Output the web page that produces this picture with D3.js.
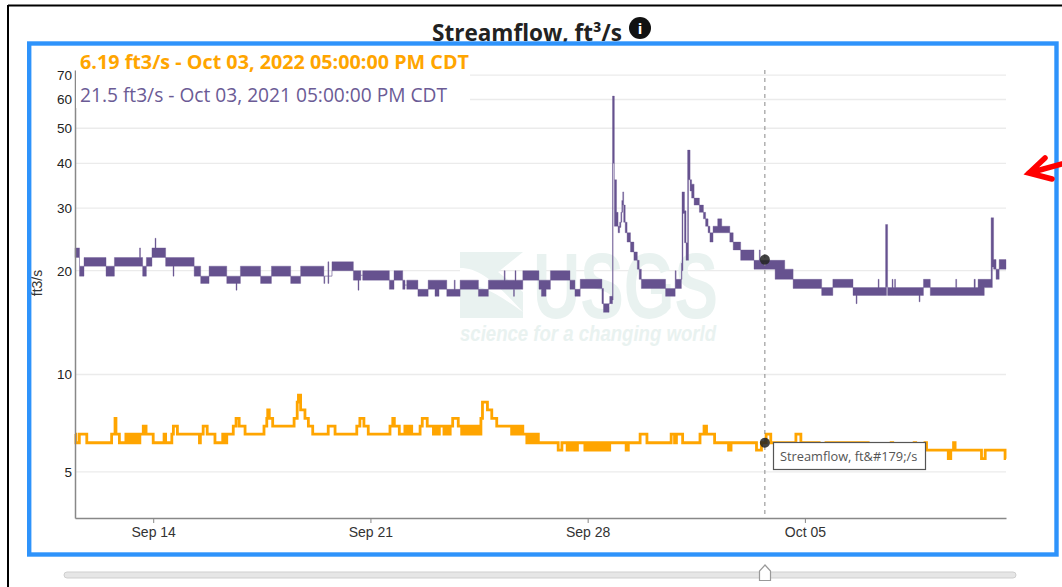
<!DOCTYPE html>
<html>
<head>
<meta charset="utf-8">
<script src="https://cdn.jsdelivr.net/npm/d3@7"></script>
<style>
  body { margin: 0; background: #fff; overflow: hidden; }
  svg { display: block; }
</style>
</head>
<body>
<svg id="chart" width="1062" height="587"></svg>
<script>
// day of the month counted from Sep 1 (Oct 3 = 33), flow top, flow bottom.
// Where the gauge flips fast between two readings top and bottom differ.
const purpleSteps = [
  [11.48,23.2,21.8],[11.625,20.6,19.3],[11.77,21.8,20.6],[12.48,20.6,19.3],[12.75,21.8,20.6],
  [13.56,23.2,20.6],[13.59,21.8,20.6],[13.66,20.6,19.3],[13.78,21.8,20.6],[13.96,23.2,21.8],
  [14.06,24.7,21.8],[14.09,23.2,21.8],[14.40,21.8,20.6],[14.64,21.8,19.3],[14.67,21.8,20.6],
  [15.32,20.6,19.3],[15.53,19.3,18.4],[15.80,20.6,19.3],[16.37,19.3,18.4],[16.67,19.3,17.6],
  [16.70,19.3,18.4],[16.81,20.6,19.3],[17.46,19.3,18.4],[17.81,20.6,19.3],[18.43,19.3,18.4],
  [18.75,20.6,19.3],[19.50,19.3,18.4],[19.53,19.3,19.3],[19.63,21.2,18.4],[19.66,19.3,19.3],
  [19.76,21.2,20.0],[20.45,20.0,18.8],[20.60,20.0,17.6],[20.63,20.0,18.8],[20.69,19.4,19.4],
  [20.75,20.0,18.8],[21.61,18.8,17.7],[21.76,20.0,18.8],[22.04,18.8,17.7],[22.115,18.2,18.2],
  [22.17,18.8,17.7],[22.53,17.7,16.9],[22.86,18.8,17.7],[23.08,18.8,16.9],[23.21,18.8,17.7],
  [23.46,17.7,16.9],[23.70,18.8,16.9],[23.73,17.7,16.9],[23.89,18.8,17.7],[24.48,17.7,16.9],
  [24.80,18.8,17.7],[25.31,20.0,17.7],[25.34,18.8,17.7],[25.61,18.8,16.9],[25.64,18.8,17.7],
  [25.66,20.0,17.7],[25.69,18.8,17.7],[25.91,20.0,18.8],[26.43,18.8,17.7],[26.51,18.8,16.9],
  [26.66,18.8,17.7],[26.80,20.0,18.8],[27.43,18.8,17.7],[27.59,17.7,16.9],[27.76,18.9,17.8],
  [28.46,17.8,16.1],[28.51,16.1,15.2],[28.69,16.1,16.1],[28.71,16.9,16.1],[28.80,61.3,16.5],
  [28.82,61.3,40],[28.86,36,26.7],[28.93,29.2,26.7],[28.98,26.7,25.6],[29.03,27.4,26.5],
  [29.07,29.2,27.4],[29.10,31.5,29.2],[29.13,33.3,30.6],[29.16,30.6,27.4],[29.21,27.4,25.6],
  [29.27,25.6,24.1],[29.38,24.1,22.6],[29.49,22.6,21.4],[29.60,21.4,20.2],[29.66,20.2,18.9],
  [29.73,18.9,17.8],[30.51,17.8,16.9],[30.82,20.0,17.8],[30.85,18.9,17.8],[31.02,21,18.9],
  [31.04,33.3,20],[31.07,33.3,29],[31.12,29.5,24],[31.17,24,21.4],[31.22,43.5,21.4],
  [31.25,43.5,36],[31.30,36,33.5],[31.35,35,32],[31.43,32,30.6],[31.60,30.6,29.2],
  [31.73,29.2,28],[31.80,28,26.7],[31.88,26.7,25.6],[31.94,25.6,24.1],[32.04,26.7,25.6],
  [32.19,28,25.6],[32.32,26.7,25.6],[32.58,25.6,24.1],[32.69,24.1,22.9],[32.93,22.9,21.4],
  [33.36,21.4,20.2],[33.53,22.9,20.2],[33.56,21.4,20.2],[34.04,21.4,18.9],[34.35,20.2,18.9],
  [34.62,18.9,17.8],[35.54,17.9,17.0],[35.90,18.9,17.9],[36.55,17.9,17.0],[36.65,17.9,16.1],
  [36.68,17.9,17.0],[37.36,18.9,17.0],[37.39,17.9,17.0],[37.60,27,17.0],[37.63,27,18],
  [37.665,17.9,17.0],[37.81,18.9,17.0],[37.84,17.9,17.0],[37.89,18.9,17.0],[37.92,17.9,17.0],
  [38.68,17.9,16.3],[38.71,17.9,17.0],[38.82,18.9,17.9],[39.04,17.9,17.0],[39.86,18.9,17.0],
  [39.89,17.9,17.0],[40.45,18.9,17.0],[40.49,17.9,17.0],[40.58,18.9,17.0],[40.78,18.9,17.9],
  [41.0,28.2,17.9],[41.04,28.2,20.5],[41.08,21.5,20.2],[41.16,20.2,18.9],[41.26,21.5,20.2],
  [41.48,21.5,20.2]
];

const orangeSteps = [
  [11.48,6.59,6.59],[11.51,6.19,6.19],[11.62,6.59,6.59],[11.86,6.19,6.19],[12.66,6.59,6.59],
  [12.77,7.37,7.37],[12.80,6.59,6.59],[12.91,6.19,6.19],[13.12,6.59,6.19],[13.57,6.59,6.59],
  [13.68,6.98,6.98],[13.77,6.59,6.59],[14.00,6.19,6.19],[14.35,6.59,6.59],[14.40,6.19,6.19],
  [14.60,6.59,6.59],[14.65,6.98,6.98],[14.78,6.59,6.59],[15.49,6.19,6.19],[15.52,6.59,6.59],
  [15.61,6.98,6.98],[15.74,6.59,6.59],[15.99,6.19,6.19],[16.24,6.59,6.19],[16.37,6.59,6.59],
  [16.58,6.98,6.98],[16.67,7.37,7.37],[16.77,6.98,6.98],[16.96,6.59,6.59],[17.57,6.98,6.98],
  [17.66,7.37,7.37],[17.69,7.82,7.82],[17.74,7.37,7.37],[17.85,6.98,6.98],[18.54,7.37,7.37],
  [18.64,8.26,8.26],[18.68,8.68,8.68],[18.75,7.82,7.82],[18.89,7.37,7.37],[19.0,6.98,6.98],
  [19.14,6.59,6.59],[19.64,6.98,6.98],[19.86,6.59,6.59],[20.56,6.98,6.98],[20.66,7.37,7.37],
  [20.79,6.98,6.98],[20.93,6.59,6.59],[21.63,6.98,6.98],[21.72,7.37,7.37],[21.77,6.98,6.98],
  [21.93,6.59,6.59],[22.11,6.98,6.59],[22.33,6.59,6.59],[22.60,6.98,6.98],[22.67,7.37,7.37],
  [22.83,6.98,6.98],[23.03,6.98,6.59],[23.22,6.98,6.98],[23.37,6.98,6.59],[23.57,6.98,6.98],
  [23.65,7.37,7.37],[23.83,6.98,6.98],[23.94,6.98,6.59],[24.15,6.59,6.59],[24.21,6.98,6.59],
  [24.48,6.59,6.59],[24.56,7.37,7.37],[24.61,8.26,8.26],[24.77,7.82,7.82],[24.91,7.37,7.37],
  [25.07,6.98,6.98],[25.55,6.98,6.59],[25.91,6.59,6.59],[26.04,6.59,6.19],[26.41,6.19,6.19],
  [27.05,5.87,5.87],[27.17,6.19,6.19],[27.34,6.19,5.87],[27.67,6.19,6.19],[27.91,6.19,5.87],
  [28.17,6.19,6.19],[28.23,6.19,5.87],[28.71,6.19,6.19],[29.24,5.87,5.87],[29.31,6.19,6.19],
  [29.69,6.59,6.59],[29.91,6.19,6.19],[30.69,6.59,6.59],[30.80,6.19,6.19],[30.86,6.59,6.59],
  [31.06,6.19,6.19],[31.62,6.59,6.59],[31.75,6.98,6.98],[31.83,6.59,6.59],[32.09,6.19,6.19],
  [32.54,5.87,5.87],[32.62,6.19,6.19],[33.44,5.87,5.87],[33.60,6.19,6.19],[33.75,6.59,6.59],
  [33.90,6.19,6.19],[34.71,6.59,6.59],[34.87,6.19,6.19],[35.46,5.87,5.87],[35.68,6.19,6.19],
  [36.55,5.87,5.87],[36.62,6.19,6.19],[37.04,5.87,5.87],[37.78,6.19,6.19],[37.83,5.87,5.87],
  [38.52,6.19,6.19],[38.57,5.87,5.87],[38.87,6.19,6.19],[38.92,5.87,5.87],[39.62,5.51,5.51],
  [39.70,5.87,5.87],[39.79,6.19,6.19],[39.84,5.87,5.87],[40.69,5.51,5.51],[40.81,5.87,5.87],
  [41.45,5.51,5.51],[41.48,5.51,5.51]
];

const yTicks = [5, 10, 20, 30, 40, 50, 60, 70];
const xTickDays = [14, 21, 28, 35];
const xTickLabels = ["Sep 14", "Sep 21", "Sep 28", "Oct 05"];
const hoverDay = 33.71;
const hoverPurple = 21.5;
const hoverOrange = 6.19;

const titleText = "Streamflow, ft³/s";
const orangeLabel = "6.19 ft3/s - Oct 03, 2022 05:00:00 PM CDT";
const purpleLabel = "21.5 ft3/s - Oct 03, 2021 05:00:00 PM CDT";
const tooltipText = "Streamflow, ft&#179;/s";

const purple = "#66528f";
const orange = "#ffa500";
const toDate = d => new Date(Date.UTC(2021, 8, 0) + d * 864e5);

const svg = d3.select("#chart");

// outer page lines
svg.append("line").attr("x1", 8).attr("x2", 1062).attr("y1", 5.5).attr("y2", 5.5)
  .attr("stroke", "#000").attr("stroke-width", 2);
svg.append("line").attr("x1", 8).attr("x2", 8).attr("y1", 5).attr("y2", 587)
  .attr("stroke", "#000").attr("stroke-width", 2);

const margin = { top: 70, right: 56, bottom: 69, left: 75 };
const width = 1062 - margin.left - margin.right;
const height = 587 - margin.top - margin.bottom;

const x = d3.scaleUtc().domain([toDate(11.48), toDate(41.48)]).range([margin.left, margin.left + width]);
const y = d3.scaleSymlog().constant(1).domain([3.5, 72.3]).range([margin.top + height, margin.top]);

// gridlines
svg.append("g").selectAll("line").data(yTicks).enter().append("line")
  .attr("x1", margin.left).attr("x2", margin.left + width)
  .attr("y1", d => y(d)).attr("y2", d => y(d))
  .attr("stroke", "#ebebeb").attr("stroke-width", 1.3);

// USGS watermark
const mark = svg.append("g").attr("fill", "#e9f2f0");
mark.append("path").attr("d", "M460,252 H523 L498,272 L523,292 V318 H460 Z");
mark.append("path").attr("d", "M460,268 C480,268 495,282 523,312 C495,292 480,284 460,284 Z").attr("fill", "#fff");
mark.append("text").attr("x", 533).attr("y", 318).attr("textLength", 185).attr("lengthAdjust", "spacingAndGlyphs")
  .style("font", "bold 92px 'Liberation Sans'").text("USGS");
mark.append("text").attr("x", 460).attr("y", 341).attr("textLength", 256).attr("lengthAdjust", "spacingAndGlyphs")
  .style("font", "italic bold 22px 'Liberation Sans'").text("science for a changing world");

// both series are step areas between top and bottom readings
const stepArea = d3.area().curve(d3.curveStepAfter)
  .x(d => x(toDate(d[0])))
  .y1(d => y(d[1]))
  .y0(d => y(d[2]));

svg.append("path").datum(purpleSteps).attr("d", stepArea)
  .attr("fill", purple).attr("stroke", purple).attr("stroke-width", 0.5).attr("stroke-opacity", 0.7);
svg.append("path").datum(orangeSteps).attr("d", stepArea)
  .attr("fill", orange).attr("stroke", orange).attr("stroke-width", 2.8);

// hover line and dots
svg.append("line")
  .attr("x1", x(toDate(hoverDay))).attr("x2", x(toDate(hoverDay)))
  .attr("y1", margin.top).attr("y2", margin.top + height)
  .attr("stroke", "#888").attr("stroke-width", 1).attr("stroke-dasharray", "4,4");
svg.append("g").selectAll("circle").data([hoverPurple, hoverOrange]).enter().append("circle")
  .attr("cx", x(toDate(hoverDay))).attr("cy", d => y(d)).attr("r", 5)
  .attr("fill", "#222").attr("fill-opacity", 0.85);

// axes
const xAxis = svg.append("g")
  .attr("transform", `translate(0,${margin.top + height})`)
  .call(d3.axisBottom(x)
    .tickValues(xTickDays.map(toDate))
    .tickFormat((d, i) => xTickLabels[i])
    .tickSize(5).tickPadding(4).tickSizeOuter(0));
xAxis.selectAll("text").style("font", "14px 'Liberation Sans'").attr("fill", "#333");

const yAxis = svg.append("g")
  .attr("transform", `translate(${margin.left},0)`)
  .call(d3.axisLeft(y).tickValues(yTicks).tickFormat(d3.format("d")).tickSize(0).tickPadding(3));
yAxis.selectAll("text").style("font", "13.5px 'Liberation Sans'").attr("fill", "#222");

[xAxis, yAxis].forEach(a => a.selectAll("path, line").attr("stroke", "#888"));
xAxis.select("path").attr("stroke-width", 1.5);
yAxis.select("path").attr("stroke-width", 1.5);

svg.append("text")
  .attr("transform", `translate(42,283) rotate(-90)`)
  .attr("text-anchor", "middle")
  .style("font", "14px 'Liberation Sans'").attr("fill", "#333")
  .text("ft3/s");

// legend text sits on a white patch over the gridlines
svg.append("rect").attr("x", 76).attr("y", 50).attr("width", 394).attr("height", 58).attr("fill", "#fff");
svg.append("text").attr("x", 80).attr("y", 69).attr("textLength", 389).attr("lengthAdjust", "spacingAndGlyphs")
  .style("font", "700 19.5px 'Open Sans'").attr("fill", orange).text(orangeLabel);
svg.append("text").attr("x", 80).attr("y", 102).attr("textLength", 367).attr("lengthAdjust", "spacingAndGlyphs")
  .style("font", "400 19.2px 'Open Sans'").attr("fill", "#6b5b95").text(purpleLabel);

// tooltip
svg.append("rect").attr("x", 773.5).attr("y", 442.5).attr("width", 152).attr("height", 27)
  .attr("fill", "#fff").attr("stroke", "#555").attr("stroke-width", 1.2);
svg.append("text").attr("x", 780).attr("y", 461)
  .style("font", "12.8px 'Open Sans'").attr("fill", "#555").text(tooltipText);

// title and info icon, the blue frame overlaps the bottom of the title
svg.append("text").attr("x", 432).attr("y", 41).attr("textLength", 190).attr("lengthAdjust", "spacingAndGlyphs")
  .style("font", "700 22.5px 'Open Sans'").attr("fill", "#222").text(titleText);
svg.append("circle").attr("cx", 640).attr("cy", 28).attr("r", 11).attr("fill", "#111");
svg.append("text").attr("x", 640).attr("y", 34).attr("text-anchor", "middle")
  .style("font", "bold 15px 'Open Sans'").attr("fill", "#fff").text("i");

svg.append("rect").attr("x", 29.2).attr("y", 43.5).attr("width", 1027.3).attr("height", 511)
  .attr("fill", "none").attr("stroke", "#2e93fb").attr("stroke-width", 4.4);

// red arrow
svg.append("path").attr("d", "M1062,164 L1029,173 M1045,158 L1029,173 L1052,179")
  .attr("fill", "none").attr("stroke", "#f00").attr("stroke-width", 5.5)
  .attr("stroke-linecap", "round").attr("stroke-linejoin", "miter");

// time slider
svg.append("rect").attr("x", 64).attr("y", 572).attr("width", 952).attr("height", 6).attr("rx", 3)
  .attr("fill", "#e6e6e6").attr("stroke", "#cfcfcf");
svg.append("path").attr("d", "M759.5,580.5 V571 L765,565 L770.5,571 V580.5 Z")
  .attr("fill", "#fff").attr("stroke", "#999").attr("stroke-width", 1.2);
</script>
</body>
</html>
